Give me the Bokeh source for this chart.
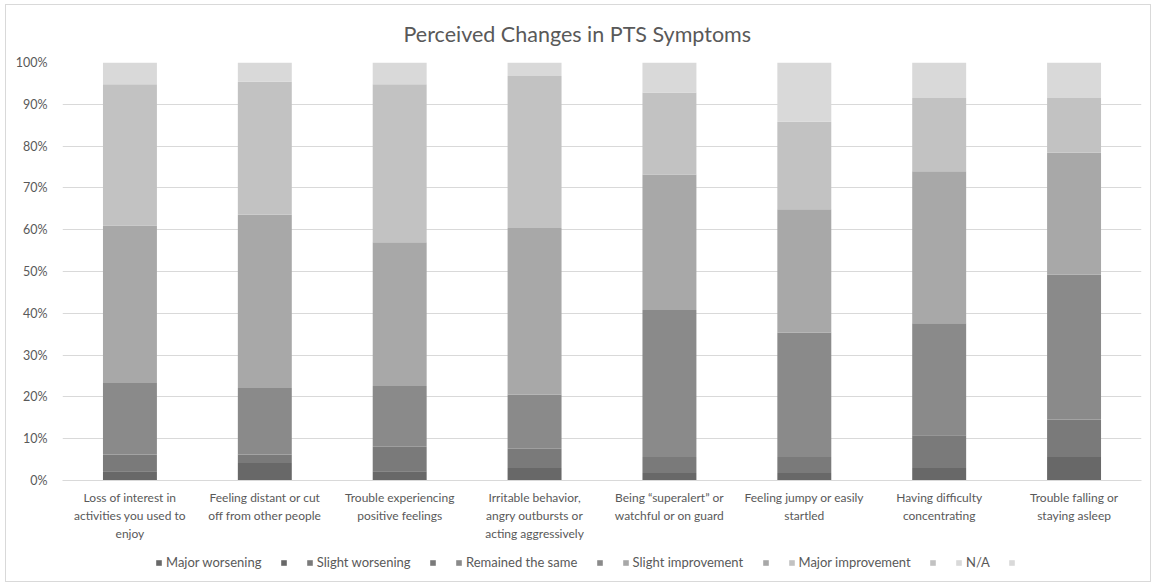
from bokeh.plotting import figure
from bokeh.layouts import column
from bokeh.models import ColumnDataSource, Legend, LegendItem, PrintfTickFormatter, FixedTicker, Range1d
from bokeh.embed import file_html
from bokeh.resources import INLINE

categories = [
    "Loss of interest in\nactivities you used to\nenjoy",
    "Feeling distant or cut\noff from other people",
    "Trouble experiencing\npositive feelings",
    "Irritable behavior,\nangry outbursts or\nacting aggressively",
    "Being \u201csuperalert\u201d or\nwatchful or on guard",
    "Feeling jumpy or easily\nstartled",
    "Having difficulty\nconcentrating",
    "Trouble falling or\nstaying asleep",
]
series_names = ["Major worsening", "Slight worsening", "Remained the same",
                "Slight improvement", "Major improvement", "N/A"]
major_worsening = [2.2, 4.2, 2.2, 3.0, 1.8, 1.8, 3.0, 5.6]
slight_worsening = [4.0, 2.0, 5.9, 4.6, 3.8, 3.8, 7.8, 9.0]
remained_same = [17.1, 15.9, 14.5, 13.0, 35.2, 29.8, 26.8, 34.7]
slight_improvement = [37.7, 41.5, 34.4, 39.8, 32.4, 29.5, 36.4, 29.1]
major_improvement = [33.8, 31.8, 37.8, 36.4, 19.6, 20.9, 17.5, 13.1]
not_applicable = [5.2, 4.6, 5.2, 3.2, 7.2, 14.2, 8.5, 8.5]
colors = ["#686868", "#7a7a7a", "#8a8a8a", "#a8a8a8", "#c2c2c2", "#d9d9d9"]

keys = ["mw", "sw", "rs", "si", "mi", "na"]
source = ColumnDataSource(dict(cat=categories, mw=major_worsening, sw=slight_worsening,
                               rs=remained_same, si=slight_improvement,
                               mi=major_improvement, na=not_applicable))

FONT = "Lato"
W = 1144
p = figure(x_range=categories, y_range=Range1d(0, 100), width=W, height=542,
           output_backend="svg", toolbar_location=None,
           title="Perceived Changes in PTS Symptoms",
           min_border_left=56, min_border_right=9, min_border_top=57, min_border_bottom=67)

renderers = p.vbar_stack(keys, x="cat", width=0.4, color=colors, source=source, line_color=None)

p.title.align = "left"
p.title.offset = 341
p.title.vertical_align = "middle"
p.title.text_font = FONT
p.title.text_font_size = "21.5px"
p.title.text_font_style = "normal"
p.title.text_color = "#595959"
p.title.standoff = 29

p.outline_line_color = None
p.xgrid.grid_line_color = None
p.ygrid.grid_line_color = "#d9d9d9"
p.ygrid.grid_line_width = 1
p.yaxis.ticker = FixedTicker(ticks=list(range(0, 101, 10)))
p.yaxis.formatter = PrintfTickFormatter(format="%d%%")
p.yaxis.axis_line_color = None
p.yaxis.major_tick_line_color = None
p.yaxis.minor_tick_line_color = None
p.yaxis.major_label_text_font = FONT
p.yaxis.major_label_text_font_size = "12.5px"
p.yaxis.major_label_text_color = "#595959"
p.yaxis.major_label_standoff = 9

p.xaxis.axis_line_color = "#d9d9d9"
p.xaxis.major_tick_line_color = None
p.xaxis.minor_tick_line_color = None
p.xaxis.major_label_text_font = FONT
p.xaxis.major_label_text_font_size = "12px"
p.xaxis.major_label_text_color = "#595959"
p.xaxis.major_label_standoff = 3
p.xaxis.major_label_text_line_height = 1.2

# legend strip below the chart
lp = figure(width=W, height=34, output_backend="svg", toolbar_location=None,
            x_range=Range1d(0, 1), y_range=Range1d(0, 1),
            min_border=0, x_axis_type=None, y_axis_type=None)
lp.outline_line_color = None
lp.grid.visible = False
items = []
for name, col in zip(series_names, colors):
    # swatch renderer kept outside the visible range; only its legend entry shows
    r = lp.quad(left=[2], right=[3], bottom=[2], top=[3], color=col, line_color=None)
    items.append(LegendItem(label=name + " ", renderers=[r]))
    items.append(LegendItem(label=" ", renderers=[r]))
legend = Legend(items=items, orientation="horizontal", location=(93, 11),
                glyph_width=7, glyph_height=7, label_standoff=4, spacing=15, label_width=0,
                label_text_font=FONT, label_text_font_size="13px", label_text_color="#595959",
                border_line_color=None, background_fill_alpha=0, padding=4, margin=0)
lp.add_layout(legend, "center")

layout = column(p, lp, spacing=0,
                styles={"border": "1px solid #d9d9d9", "margin-left": "5px", "margin-top": "4px"})

open("out.html", "w").write(file_html(layout, INLINE))
